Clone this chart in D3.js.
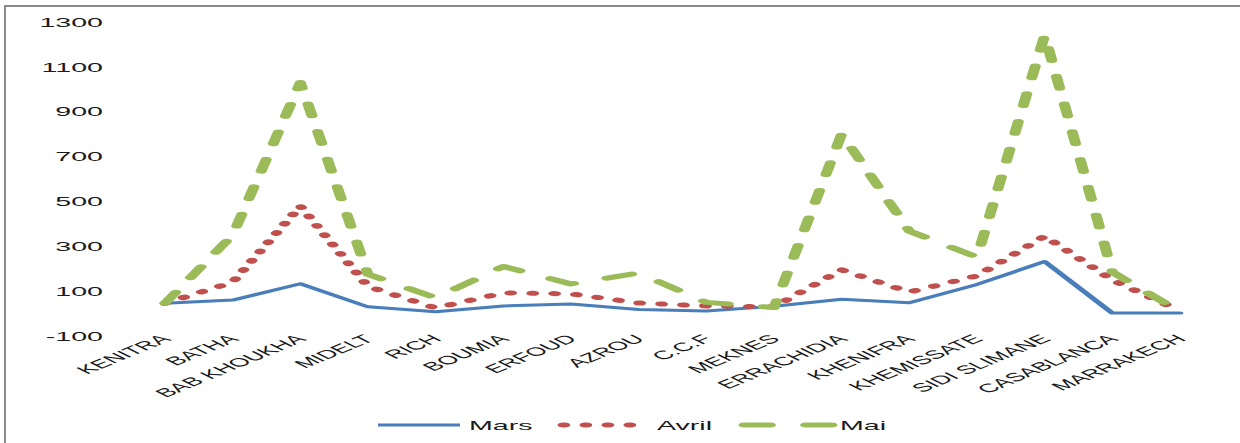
<!DOCTYPE html>
<html>
<head>
<meta charset="utf-8">
<script src="https://cdn.jsdelivr.net/npm/d3@7/dist/d3.min.js"></script>
<style>
  html, body { margin: 0; padding: 0; background: #fff; }
  svg { display: block; }
</style>
</head>
<body>
<div id="chart"></div>
<script>
const categories = ["KENITRA","BATHA","BAB KHOUKHA","MIDELT","RICH","BOUMIA","ERFOUD","AZROU","C.C.F","MEKNES","ERRACHIDIA","KHENIFRA","KHEMISSATE","SIDI SLIMANE","CASABLANCA","MARRAKECH"];
const mars  = [46, 60, 133, 30, 8, 34, 43, 18, 11, 33, 64, 48, 130, 232, 2, 2];
const avril = [46, 140, 479, 121, 25, 92, 88, 47, 34, 30, 195, 96, 168, 345, 150, 12];
const mai   = [46, 350, 1030, 175, 70, 210, 132, 181, 50, 27, 800, 368, 252, 1240, 185, 8];
const yTicks = [-100, 100, 300, 500, 700, 900, 1100, 1300];
const seriesNames = ["Mars", "Avril", "Mai"];

const W = 1240, H = 443;
const S = 2.2; // horizontal stretch of the original picture
const FONT = "'Liberation Sans', Arial, sans-serif";

const styles = {
  Mars:  { color: "#4a7ebb", width: 3,   dash: null,      cap: "round" },
  Avril: { color: "#c0504d", width: 5,   dash: "0.8 9.2", cap: "round" },
  Mai:   { color: "#9bbb59", width: 5,   dash: "12 16",   cap: "round" }
};
const seriesValues = { Mars: mars, Avril: avril, Mai: mai };

const svg = d3.select("#chart").append("svg")
  .attr("width", W).attr("height", H);

svg.append("rect").attr("width", W).attr("height", H).attr("fill", "#fff");

// outer frame (right and bottom lie outside the picture)
svg.append("rect")
  .attr("x", 5).attr("y", 6)
  .attr("width", 1400).attr("height", 600)
  .attr("fill", "none")
  .attr("stroke", "#8a8a8a")
  .attr("stroke-width", 2);

const g = svg.append("g").attr("transform", `scale(${S},1)`);

const x = d3.scalePoint().domain(categories).range([165 / S, 1180 / S]);
const y = d3.scaleLinear().domain([-100, 1300]).range([336, 22]);

// Y axis labels
const yAxisG = g.append("g")
  .attr("transform", `translate(${103 / S},0)`)
  .call(d3.axisLeft(y).tickValues(yTicks).tickSize(0).tickPadding(0).tickFormat(d => String(d)));
yAxisG.select(".domain").remove();
yAxisG.attr("font-family", FONT).attr("font-size", 13);
yAxisG.selectAll("text").attr("fill", "#1a1a1a");

// X axis labels
const xAxisG = g.append("g")
  .attr("transform", `translate(0,340)`)
  .call(d3.axisBottom(x).tickSize(0).tickPadding(0));
xAxisG.select(".domain").remove();
xAxisG.attr("font-family", FONT).attr("font-size", 12);
xAxisG.selectAll("text")
  .attr("x", 0).attr("y", 0).attr("dy", 0)
  .attr("text-anchor", "end")
  .attr("fill", "#1a1a1a")
  .attr("transform", `translate(${6 / S},0) rotate(-42)`);

// Lines
const line = d3.line()
  .x((d, i) => x(categories[i]))
  .y(d => y(d));

seriesNames.forEach(name => {
  const st = styles[name];
  g.append("path")
    .datum(seriesValues[name])
    .attr("d", line)
    .attr("fill", "none")
    .attr("stroke", st.color)
    .attr("stroke-width", st.width)
    .attr("stroke-linejoin", "round")
    .attr("stroke-linecap", st.cap)
    .attr("stroke-dasharray", st.dash);
});

// Legend
const legendItems = [
  { name: "Mars",  x0: 378, x1: 460, tx: 469 },
  { name: "Avril", x0: 563, x1: 645, tx: 657 },
  { name: "Mai",   x0: 744, x1: 832, tx: 840 }
];
const legendY = 425;
const lg = g.append("g").attr("font-family", FONT).attr("font-size", 13);
legendItems.forEach(it => {
  const st = styles[it.name];
  lg.append("path")
    .attr("d", d3.line()([[it.x0 / S, legendY], [it.x1 / S, legendY]]))
    .attr("fill", "none")
    .attr("stroke", st.color)
    .attr("stroke-width", st.width)
    .attr("stroke-linecap", st.dash ? st.cap : "butt")
    .attr("stroke-dasharray", st.dash);
  lg.append("text")
    .attr("x", it.tx / S)
    .attr("y", legendY)
    .attr("dy", "0.35em")
    .attr("fill", "#1a1a1a")
    .text(it.name);
});
</script>
</body>
</html>
